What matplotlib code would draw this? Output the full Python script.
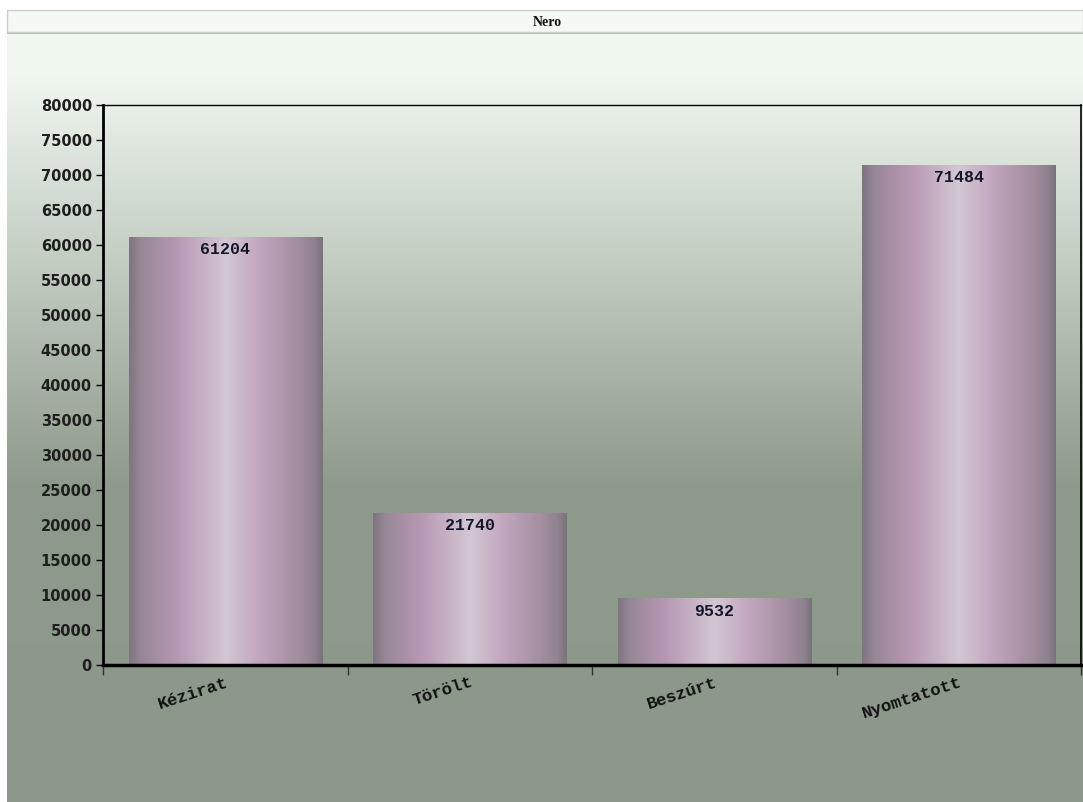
import matplotlib
matplotlib.use("Agg")
import matplotlib.pyplot as plt
import numpy as np
from matplotlib.colors import LinearSegmentedColormap
from matplotlib.patches import Rectangle

categories = ["Kézirat", "Törölt", "Beszúrt", "Nyomtatott"]
values = [61204, 21740, 9532, 71484]
yticks = list(range(0, 80001, 5000))
title = "Nero"

W, H = 1083, 802
fig = plt.figure(figsize=(W / 100, H / 100), dpi=100)
fig.patch.set_facecolor("white")

# background panel with vertical gradient
bg = fig.add_axes([0, 0, 1, 1], zorder=-2)
bg.set_xlim(0, W)
bg.set_ylim(H, 0)
bg.axis("off")
bg_cmap = LinearSegmentedColormap.from_list(
    "bg", [(0, "#f1f8f0"), (0.08, "#eff7ee"), (0.6, "#8e9a8c"), (1, "#8c998a")])
grad = np.linspace(0, 1, 400).reshape(-1, 1)
bg.imshow(grad, cmap=bg_cmap, extent=(7, W, H, 10), aspect="auto")
# title bar
bg.add_patch(Rectangle((7, 31), W - 7, 3, color="#b3bbb1", lw=0))
bg.add_patch(Rectangle((7, 10), W - 7, 22, facecolor="#f4faf3",
                       edgecolor="#c9d0c7", lw=1))
bg.text(547, 22, title, ha="center", va="center", fontsize=10,
        fontweight="bold", family="Liberation Serif", color="#111111")

ax = fig.add_axes([103 / W, 1 - 665 / H, (1081 - 103) / W, (665 - 105) / H])
ax.patch.set_alpha(0)
x = np.arange(len(categories))
bars = ax.bar(x, values, width=0.79, color="none", edgecolor="none")

bar_cmap = LinearSegmentedColormap.from_list("bar", [
    (0.0, "#7f747f"), (0.06, "#978796"), (0.25, "#b898b4"),
    (0.5, "#d3c7d3"), (0.66, "#c4a8c1"), (0.86, "#a68fa2"),
    (0.96, "#8f828e"), (1.0, "#7a727a")])
hgrad = np.linspace(0, 1, 256).reshape(1, -1)
for b in bars:
    x0, w, h = b.get_x(), b.get_width(), b.get_height()
    im = ax.imshow(hgrad, cmap=bar_cmap, extent=(x0, x0 + w, 0, h),
                   aspect="auto", zorder=2)
    im.set_clip_path(b)

for xi, v in zip(x, values):
    ax.annotate(str(v), (xi, v), xytext=(0, -4), textcoords="offset points",
                ha="center", va="top", fontsize=12, fontweight="bold",
                family="Liberation Mono", color="#15152a", zorder=3)

ax.set_xlim(-0.5, len(categories) - 0.5)
ax.set_ylim(0, 80000)
ax.set_yticks(yticks)
ax.set_yticklabels([str(t) for t in yticks], fontsize=10.5, fontweight="bold",
                   family="DejaVu Sans", color="#1e1e1e")
ax.tick_params(axis="y", direction="out", length=5, width=1, pad=3)

ax.set_xticks(x)
ax.set_xticklabels(categories, rotation=18, ha="right", va="top",
                   rotation_mode="anchor", fontsize=12.5, fontweight="bold",
                   family="Liberation Mono", color="#111111")
ax.tick_params(axis="x", which="major", length=0, pad=7)
ax.set_xticks(np.arange(-0.5, len(categories)), minor=True)
ax.tick_params(axis="x", which="minor", direction="out", length=7, width=1,
               color="#333333")

ax.spines["left"].set_linewidth(2)
ax.spines["bottom"].set_linewidth(2.5)
ax.spines["top"].set_linewidth(1)
ax.spines["right"].set_linewidth(1.2)
for s in ax.spines.values():
    s.set_color("black")

fig.savefig("out.png", dpi=100)
